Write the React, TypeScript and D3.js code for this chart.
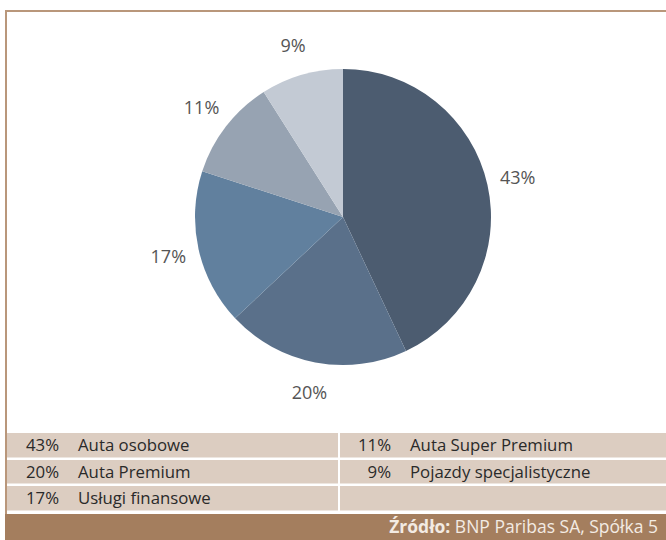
import React from "react";
import * as d3 from "d3";

const categories = ["Auta osobowe", "Auta Premium", "Usługi finansowe", "Auta Super Premium", "Pojazdy specjalistyczne"];
const values = [43, 20, 17, 11, 9];
const colors = ["#4c5c70", "#5a708a", "#61809e", "#97a3b2", "#c3cad4"];
const legendLeft = [0, 1, 2];
const legendRight = [3, 4];
const sourceBold = "Źródło:";
const sourceText = " BNP Paribas SA, Spółka 5";

export default function App() {
  const W = 666, H = 540;
  const cx = 343, cy = 217, r = 148;
  const pie = d3.pie<number>().sort(null).value((d) => d)(values);
  const arc = d3.arc<d3.PieArcDatum<number>>().innerRadius(0).outerRadius(r);
  const labelArc = d3.arc<d3.PieArcDatum<number>>().innerRadius(179).outerRadius(179);

  const rowTops = [433, 460, 486];
  const rowH = [24.5, 23.5, 24.5];
  const font = "'Open Sans', sans-serif";
  const fs = 16.8;

  return (
    <svg width={W} height={H} style={{ position: "absolute", left: 0, top: 0, display: "block" }} fontFamily={font}>
      <rect x={0} y={0} width={W} height={H} fill="#ffffff" />
      {/* frame */}
      <rect x={5} y={10} width={W - 5} height={2} fill="#b9977b" />
      <rect x={5} y={10} width={2} height={514 - 10} fill="#b9977b" />
      <g transform={`translate(${cx},${cy})`}>
        {pie.map((p, i) => (
          <path key={i} d={arc(p) || ""} fill={colors[i]} />
        ))}
        {pie.map((p, i) => {
          const [lx, ly] = labelArc.centroid(p);
          return (
            <text key={"l" + i} x={lx} y={ly} dy="0.36em" textAnchor="middle" fontSize={18} fill="#555555">
              {values[i]}%
            </text>
          );
        })}
      </g>
      {/* legend table */}
      {rowTops.map((t, ri) => (
        <g key={"row" + ri}>
          <rect x={7} y={t} width={331} height={rowH[ri]} fill="#dccdc1" />
          <rect x={340} y={t} width={W - 340} height={rowH[ri]} fill="#dccdc1" />
        </g>
      ))}
      {legendLeft.map((ci, ri) => (
        <g key={"ll" + ci}>
          <text x={59} y={rowTops[ri] + 17.5} textAnchor="end" fontSize={fs} fill="#2a2a2a">{values[ci]}%</text>
          <text x={78} y={rowTops[ri] + 17.5} fontSize={fs} fill="#2a2a2a">{categories[ci]}</text>
        </g>
      ))}
      {legendRight.map((ci, ri) => (
        <g key={"lr" + ci}>
          <text x={391} y={rowTops[ri] + 17.5} textAnchor="end" fontSize={fs} fill="#2a2a2a">{values[ci]}%</text>
          <text x={410} y={rowTops[ri] + 17.5} fontSize={fs} fill="#2a2a2a">{categories[ci]}</text>
        </g>
      ))}
      {/* source bar */}
      <rect x={5} y={514} width={W - 5} height={H - 514} fill="#a47e5e" />
      <text x={658} y={533} textAnchor="end" fontSize={17.5} fill="#f3ebe3">
        <tspan fontWeight={700}>{sourceBold}</tspan>
        <tspan>{sourceText}</tspan>
      </text>
    </svg>
  );
}
